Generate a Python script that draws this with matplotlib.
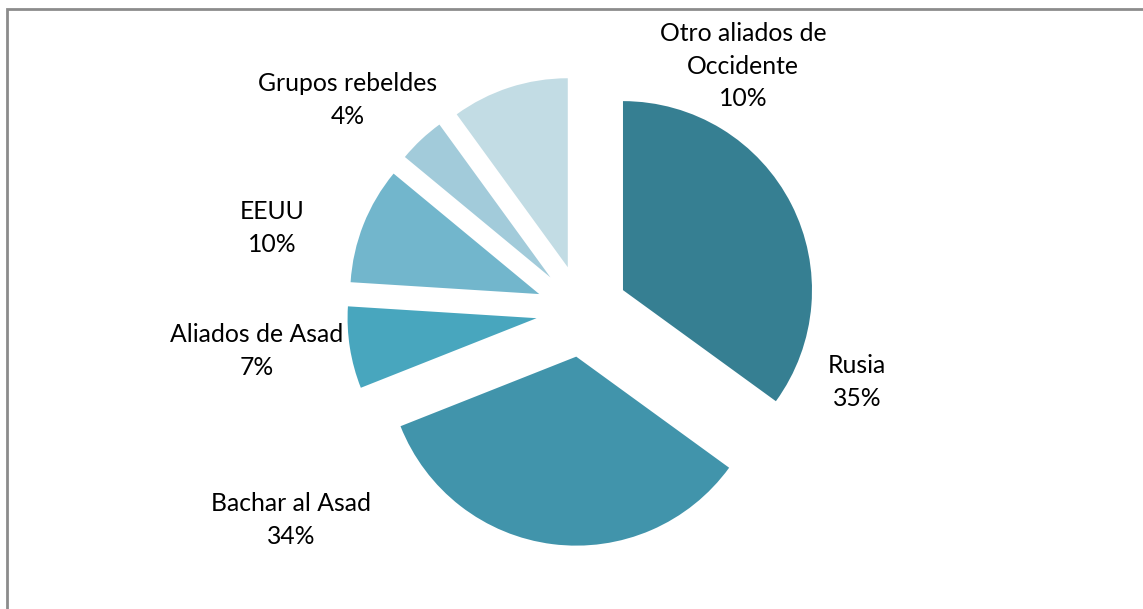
import numpy as np
import matplotlib.pyplot as plt
from matplotlib.patches import Rectangle

# Datos
categorias = ['Rusia', 'Bachar al Asad', 'Aliados de Asad', 'EEUU',
              'Grupos rebeldes', 'Otro aliados de\nOccidente']
valores = [35, 34, 7, 10, 4, 10]
colores = ['#367f92', '#4194ab', '#48a6be', '#72b6cc', '#a2cbda', '#c2dce4']

# Posiciones de las etiquetas (pixeles)
etiqueta_x = [857, 291, 257, 272, 348, 743]
etiqueta_y = [382, 520, 351, 228, 100, 66]

W, H = 1143, 609
fig = plt.figure(figsize=(W / 100, H / 100), dpi=100)
ax = fig.add_axes([0, 0, 1, 1])

# explode en pixeles (no se escala con el radio)
ax.pie(valores, colors=colores, startangle=90, counterclock=False,
       explode=[46] * len(valores), radius=189, center=(582, 298),
       wedgeprops=dict(linewidth=0))

ax.set_xlim(0, W)
ax.set_ylim(0, H)
ax.set_aspect('equal')
ax.axis('off')

for cat, v, x, y in zip(categorias, valores, etiqueta_x, etiqueta_y):
    ax.text(x, H - y, f'{cat}\n{v}%', ha='center', va='center',
            fontsize=17.8, family=['Lato', 'DejaVu Sans'], color='#000000',
            linespacing=1.5)

# Borde del gráfico
ax.add_patch(Rectangle((7, -5), W, H - 9 + 5, fill=False,
                       edgecolor='#8c8c8c', linewidth=2, clip_on=False))

fig.savefig('out.png', dpi=100)
